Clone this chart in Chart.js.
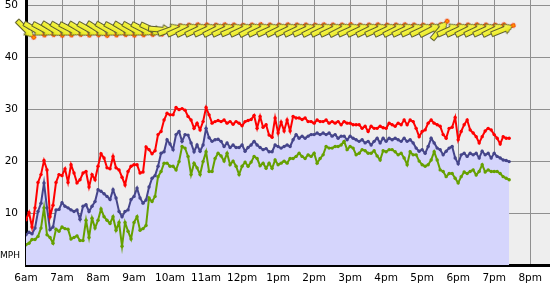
<!DOCTYPE html>
<html><head><meta charset="utf-8">
<script src="https://cdn.jsdelivr.net/npm/chart.js@4"></script>
<style>html,body{margin:0;padding:0;background:#fff}#wrap{width:550px;height:285px}</style>
</head><body><div id="wrap"><canvas id="c" width="550" height="285"></canvas></div>
<script>
// minutes after 6:00am; readings every 5 minutes
const startMinute = 0;
const stepMinutes = 5;
const hourLabels = ['6am','7am','8am','9am','10am','11am','12pm','1pm','2pm','3pm','4pm','5pm','6pm','7pm','8pm'];
const yTicks = [10, 20, 30, 40, 50];

const gust = [
8.7,10.1,7.3,11.0,15.9,17.4,20.1,18.3,9.3,11.5,
15.9,17.4,17.2,18.5,15.9,19.3,17.7,15.8,16.4,17.7,
18.0,15.0,17.4,16.4,19.0,21.4,20.6,18.7,18.5,20.9,
18.7,18.3,16.9,15.4,18.0,19.0,19.3,19.3,17.7,17.9,
22.7,22.2,21.4,22.0,25.1,25.7,27.9,29.2,28.9,28.9,
30.3,29.9,30.1,29.8,28.6,27.9,26.3,27.3,26.0,27.6,
30.3,28.9,27.3,27.6,27.8,27.6,27.9,27.3,27.6,27.1,
27.6,27.3,26.8,27.6,27.8,28.0,28.8,26.3,28.6,26.5,
27.0,25.0,24.6,28.3,25.4,27.5,25.8,27.9,25.8,28.6,
28.3,28.3,28.0,28.3,27.6,27.6,27.3,27.9,27.6,27.6,
27.9,27.3,27.6,27.3,27.6,27.0,27.6,27.3,27.3,27.0,
27.0,27.0,26.3,26.7,25.7,26.7,26.3,26.3,26.7,26.4,
26.3,27.3,27.0,26.7,27.3,27.0,27.9,27.0,27.9,27.6,
26.3,24.7,25.7,26.0,27.3,27.9,27.3,27.0,26.7,25.1,
24.4,26.3,26.5,28.4,24.1,25.7,27.0,27.9,26.0,25.4,
24.7,23.5,24.7,25.8,26.3,26.0,25.1,24.4,23.3,24.7,
24.4,24.4];

const avg = [
5.8,6.3,6.0,7.1,10.3,11.9,15.8,11.0,6.8,7.3,
10.6,10.7,12.0,11.3,11.0,10.6,10.3,10.6,8.8,11.3,
11.6,10.3,11.3,12.2,14.5,14.2,13.7,13.2,12.6,14.5,
12.9,10.3,9.3,10.3,10.6,12.6,13.2,14.8,12.9,11.9,
12.5,15.0,16.7,17.2,19.0,21.5,21.8,24.1,23.3,22.2,
25.1,25.7,23.8,25.1,25.0,23.5,21.8,23.1,21.9,23.1,
26.3,24.5,23.8,24.1,24.2,23.8,22.8,23.5,22.6,23.1,
22.6,22.6,23.1,21.9,22.6,23.1,23.8,23.1,22.6,22.2,
22.4,21.8,21.8,23.1,22.8,22.5,22.8,23.1,22.8,24.1,
25.1,24.4,24.8,24.4,24.8,25.1,25.1,25.4,25.1,25.4,
25.1,25.4,24.8,25.1,24.4,24.8,24.8,24.1,24.8,24.4,
24.1,23.8,24.1,23.5,23.8,23.1,23.8,24.4,23.5,24.4,
23.8,24.4,24.1,24.4,24.1,23.8,24.4,23.8,24.1,23.5,
22.5,21.9,22.2,21.5,22.8,24.4,23.5,22.5,22.2,21.2,
21.9,22.5,22.8,20.6,19.5,21.2,21.5,20.9,21.5,21.2,
21.5,20.6,21.9,21.2,21.5,20.6,21.5,20.9,20.6,20.2,
20.1,19.9];

const lull = [
3.9,4.2,4.9,4.9,5.5,7.1,11.0,5.8,5.3,4.2,
6.9,6.5,7.3,7.0,6.9,5.0,5.3,5.6,4.7,4.7,
8.6,5.3,9.0,7.1,8.6,10.8,9.3,8.6,8.0,9.3,
6.7,8.2,3.6,8.2,6.5,5.0,8.2,9.3,6.7,7.0,
7.6,12.9,12.2,13.2,17.0,18.0,19.6,19.6,19.0,19.0,
18.3,19.9,22.8,22.5,20.9,17.4,19.6,18.7,17.4,19.9,
21.8,18.0,18.0,20.5,21.5,21.0,20.0,21.5,19.3,20.0,
19.0,17.4,19.0,19.8,19.0,19.8,20.9,20.5,19.1,19.6,
18.6,19.6,18.6,20.2,19.3,19.6,20.0,19.6,20.5,20.5,
20.9,21.5,20.9,20.5,21.2,20.9,21.5,19.6,20.5,21.2,
22.8,22.5,22.5,22.8,22.8,23.1,23.8,22.2,22.8,22.5,
21.2,21.5,22.2,22.0,21.5,21.5,22.0,21.0,20.2,22.0,
21.8,22.2,22.2,21.8,21.2,21.5,20.6,19.3,21.8,21.2,
21.2,20.0,19.3,19.0,19.3,20.2,21.8,20.2,18.3,18.0,
17.0,17.6,17.6,16.7,15.8,17.0,17.9,17.6,18.0,18.3,
17.3,18.0,19.3,17.9,18.3,18.0,18.0,18.0,17.6,17.0,
16.7,16.4];

// wind direction (degrees, direction wind comes from), every 15 minutes
const windTimes = [0,15,30,45,60,75,90,105,120,135,150,165,180,195,210,225,240,255,270,285,
300,315,330,345,360,375,390,405,420,435,450,465,480,495,510,525,540,555,570,585,
600,615,630,645,660,675,690,705,720,735,750,765,780,795];
const windDir = [315,300,298,302,300,297,301,299,303,300,298,301,299,297,295,275,
250,246,244,245,246,244,245,247,245,243,245,246,244,245,245,246,244,245,245,243,
246,245,244,246,245,244,245,246,245,243,220,246,245,244,245,246,244,248];
const arrowLevel = 45.3;

function toPoints(arr){ return arr.map((v,i)=>({x: startMinute + i*stepMinutes, y: v})); }

function makeArrow(){
  const c = document.createElement('canvas');
  c.width = 28; c.height = 12;
  const g = c.getContext('2d');
  g.beginPath();
  g.moveTo(1.5,3.5); g.lineTo(16,3.5); g.lineTo(16,0.8); g.lineTo(25,6);
  g.lineTo(16,11.2); g.lineTo(16,8.5); g.lineTo(1.5,8.5); g.closePath();
  const gr = g.createLinearGradient(0,0,0,12);
  gr.addColorStop(0,'#ffff70'); gr.addColorStop(1,'#e0e000');
  g.fillStyle = gr; g.fill();
  g.strokeStyle = '#5c5c2e'; g.lineWidth = 1; g.stroke();
  const rg = g.createRadialGradient(25,6,0.3,25,6,2.6);
  rg.addColorStop(0,'#ffb000'); rg.addColorStop(1,'#ee2000');
  g.beginPath(); g.arc(25,6,2.4,0,Math.PI*2); g.fillStyle = rg; g.fill();
  return c;
}
const arrowImg = makeArrow();

const bgPlugin = {
  id:'bg',
  beforeDraw(chart){
    const {ctx, chartArea:a} = chart;
    ctx.save();
    ctx.fillStyle = '#ffffff'; ctx.fillRect(0,0,chart.width,chart.height);
    ctx.fillStyle = '#eeeeee'; ctx.fillRect(a.left,a.top,a.right-a.left,a.bottom-a.top);
    ctx.restore();
  }
};
const unitPlugin = {
  id:'unit',
  afterDraw(chart){
    const ctx = chart.ctx, y = chart.scales.y.getPixelForValue(0);
    ctx.save();
    ctx.font = '9px "DejaVu Sans"'; ctx.fillStyle = '#000';
    ctx.textAlign = 'left'; ctx.textBaseline = 'middle';
    ctx.fillText('MPH', 0, y - 9);
    ctx.restore();
  }
};

Chart.defaults.font.family = '"DejaVu Sans", Verdana, sans-serif';
new Chart(document.getElementById('c'), {
  type:'line',
  data:{ datasets:[
    { data: windTimes.map(t=>({x:t, y:arrowLevel})), showLine:false, clip:false,
      pointStyle: arrowImg, pointRotation: windDir.map(d=>d+90), pointRadius:10, pointHoverRadius:10 },
    { data: toPoints(gust), borderColor:'#ff0000', borderWidth:2, pointRadius:1.7, pointBorderWidth:0,
      pointBackgroundColor:'#ff0000', fill:false, tension:0 },
    { data: toPoints(avg), borderColor:'#45458a', borderWidth:2, pointRadius:1.7, pointBorderWidth:0,
      pointBackgroundColor:'#45458a', backgroundColor:'#d5d5fc', fill:'origin', tension:0 },
    { data: toPoints(lull), borderColor:'#66a000', borderWidth:2, pointRadius:1.7, pointBorderWidth:0,
      pointBackgroundColor:'#66a000', fill:false, tension:0 }
  ]},
  options:{
    responsive:false, animation:false, devicePixelRatio:1,
    layout:{padding:0, autoPadding:false},
    plugins:{ legend:{display:false}, tooltip:{enabled:false}, filler:{drawTime:'beforeDatasetsDraw'} },
    scales:{
      x:{ type:'linear', min:0, max:873,
        grid:{color:'#8f8f8f', drawTicks:false, lineWidth:1},
        border:{color:'#000', width:3},
        ticks:{ stepSize:60, includeBounds:false, autoSkip:false, maxRotation:0, padding:7, color:'#000',
          font:{size:10.5}, callback:v=> hourLabels[Math.round(v/60)] },
        afterFit:s=>{ s.height = 20; s.paddingLeft = 0; s.paddingRight = 0; } },
      y:{ type:'linear', min:0, max:51,
        grid:{color:'#8f8f8f', drawTicks:false, lineWidth:1},
        border:{color:'#000', width:3},
        ticks:{ stepSize:10, includeBounds:false, padding:8, color:'#000', font:{size:10.5},
          callback:v=> yTicks.includes(v) ? String(v) : '' },
        afterFit:s=>{ s.width = 26; s.paddingTop = 0; s.paddingBottom = 0; } }
    }
  },
  plugins:[bgPlugin, unitPlugin]
});
</script></body></html>
